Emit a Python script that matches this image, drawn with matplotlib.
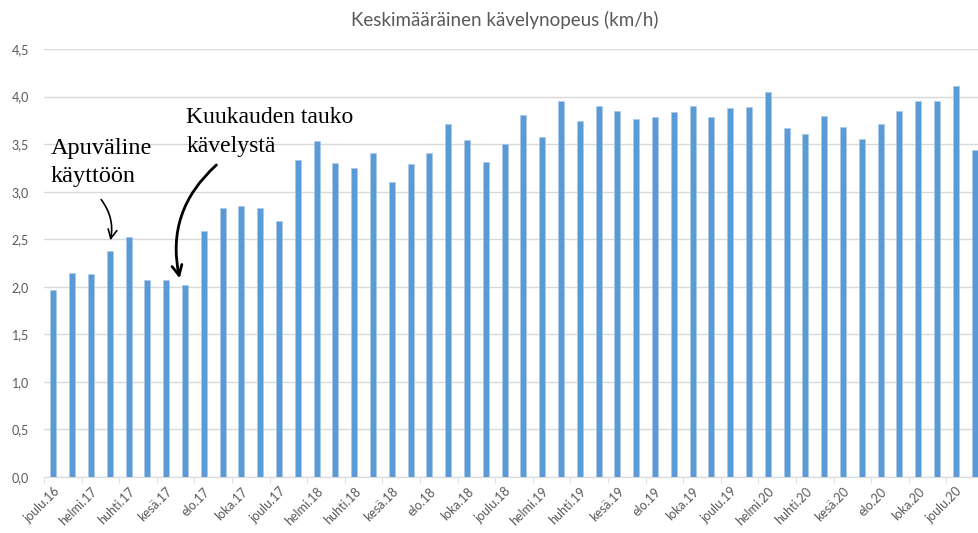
import numpy as np
import matplotlib.pyplot as plt

# monthly average walking speed, joulu.16 .. tammi.21
months = ['joulu.16',
          'tammi.17', 'helmi.17', 'maalis.17', 'huhti.17', 'touko.17', 'kesä.17',
          'heinä.17', 'elo.17', 'syys.17', 'loka.17', 'marras.17', 'joulu.17',
          'tammi.18', 'helmi.18', 'maalis.18', 'huhti.18', 'touko.18', 'kesä.18',
          'heinä.18', 'elo.18', 'syys.18', 'loka.18', 'marras.18', 'joulu.18',
          'tammi.19', 'helmi.19', 'maalis.19', 'huhti.19', 'touko.19', 'kesä.19',
          'heinä.19', 'elo.19', 'syys.19', 'loka.19', 'marras.19', 'joulu.19',
          'tammi.20', 'helmi.20', 'maalis.20', 'huhti.20', 'touko.20', 'kesä.20',
          'heinä.20', 'elo.20', 'syys.20', 'loka.20', 'marras.20', 'joulu.20',
          'tammi.21']
speed = [1.97, 2.15, 2.13, 2.38, 2.52, 2.07, 2.07, 2.02, 2.59, 2.83,
         2.85, 2.83, 2.69, 3.33, 3.53, 3.30, 3.25, 3.41, 3.10, 3.29,
         3.41, 3.71, 3.54, 3.31, 3.50, 3.81, 3.58, 3.95, 3.74, 3.90,
         3.85, 3.76, 3.78, 3.84, 3.90, 3.79, 3.88, 3.89, 4.05, 3.67,
         3.61, 3.80, 3.68, 3.55, 3.71, 3.85, 3.95, 3.95, 4.11, 3.44]
y_ticks = [0.0, 0.5, 1.0, 1.5, 2.0, 2.5, 3.0, 3.5, 4.0, 4.5]

W, H = 979, 533
fig = plt.figure(figsize=(W / 100, H / 100), dpi=100)
# plot area in pixels: left 44, right ~984 (cropped), y0 at 477, 4.5 at 49
ax = fig.add_axes([44 / W, (H - 477) / H, 940 / W, 428 / H])

gray = '#595959'
x = np.arange(len(speed))
ax.bar(x, speed, width=0.32, color='#5b9bd5', edgecolor='#a9c8ea', linewidth=0.4, zorder=2)

ax.set_xlim(-0.5, len(speed) - 0.5)
ax.set_ylim(0, 4.5)
ax.set_yticks(y_ticks)
ax.set_yticklabels([f'{v:.1f}'.replace('.', ',') for v in y_ticks],
                   fontsize=9, color=gray, family='Lato')
ax.grid(axis='y', color='#d9d9d9', linewidth=1, zorder=0)
ax.set_axisbelow(True)
for s in ['top', 'right', 'left']:
    ax.spines[s].set_visible(False)
ax.spines['bottom'].set_color('#d9d9d9')
ax.tick_params(axis='y', length=0, pad=11)

ax.set_xticks(x[::2])
ax.set_xticklabels(months[::2], rotation=45, ha='right', rotation_mode='anchor',
                   fontsize=9, color=gray, family='Lato')
ax.tick_params(axis='x', which='major', length=0, pad=6)
ax.set_xticks(x[::2] - 0.5, minor=True)
ax.tick_params(axis='x', which='minor', length=4, color='#d9d9d9')

fig.text(505 / W, 1 - 20 / H, 'Keskimääräinen kävelynopeus (km/h)', ha='center', va='center',
         fontsize=13.5, color=gray, family='Lato')

# hand-written notes
serif = 'Liberation Serif'
ax.text(-0.16, 3.40, 'Apuväline', fontsize=17.5, family=serif, va='baseline')
ax.text(-0.16, 3.105, 'käyttöön', fontsize=17.5, family=serif, va='baseline')
ax.text(7.07, 3.72, 'Kuukauden tauko', fontsize=17, family=serif, va='baseline')
ax.text(7.07, 3.42, 'kävelystä', fontsize=17, family=serif, va='baseline')

ax.annotate('', xy=(3, speed[3] + 0.08), xytext=(2.45, 2.94),
            arrowprops=dict(arrowstyle='->', color='black', lw=1.2,
                            connectionstyle='arc3,rad=-0.25', mutation_scale=16))
ax.annotate('', xy=(6.75, speed[7] + 0.04), xytext=(8.78, 3.30),
            arrowprops=dict(arrowstyle='->', color='black', lw=2.0,
                            connectionstyle='arc3,rad=0.3', mutation_scale=18))

fig.savefig('out.png', dpi=100)
